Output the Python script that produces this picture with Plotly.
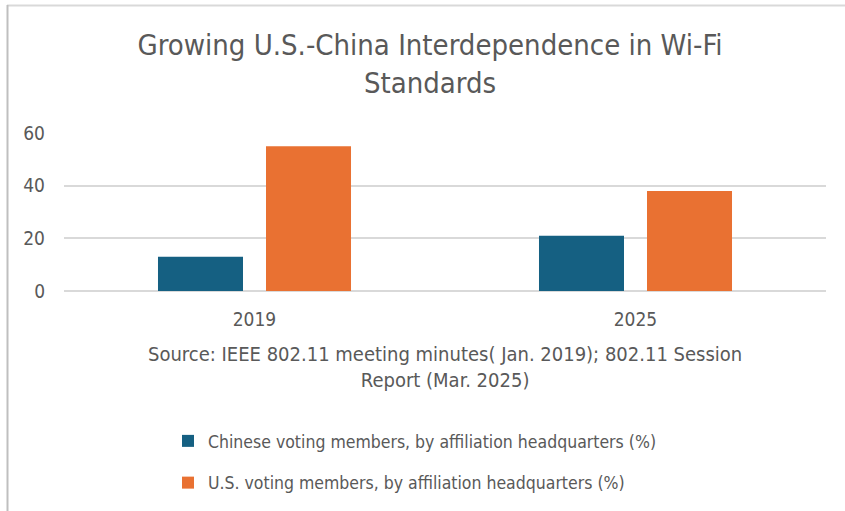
import plotly.graph_objects as go

categories = ["2019", "2025"]
chinese_pct = [13, 21]
us_pct = [55, 38]
series_names = [
    "Chinese voting members, by affiliation headquarters (%)",
    "U.S. voting members, by affiliation headquarters (%)",
]
y_ticks = [0, 20, 40, 60]

TITLE = "Growing U.S.-China Interdependence in Wi-Fi<br>Standards"
SOURCE = "Source: IEEE 802.11 meeting minutes( Jan. 2019); 802.11 Session<br>Report (Mar. 2025)"

W, H = 845, 511
L, R, T, B = 64, 19, 133, 220
pw, ph = W - L - R, H - T - B

def px_x(px):
    return (px - L) / pw

def px_y(py):
    return (H - B - py) / ph

FONT = "DejaVu Sans Condensed, Liberation Sans Narrow, Liberation Sans, sans-serif"
GRAY = "#595959"

fig = go.Figure()
fig.add_trace(go.Bar(x=categories, y=chinese_pct, name=series_names[0],
                     marker=dict(color="#156082", line=dict(width=0)), legendgroup="a"))
fig.add_trace(go.Bar(x=categories, y=us_pct, name=series_names[1],
                     marker=dict(color="#E97132", line=dict(width=0)), legendgroup="b"))

fig.update_layout(
    width=W, height=H,
    margin=dict(l=L, r=R, t=T, b=B, autoexpand=False),
    paper_bgcolor="white", plot_bgcolor="white",
    font=dict(family=FONT, color=GRAY),
    barmode="group", bargap=0.433, bargroupgap=0.213,
    title=dict(text=TITLE, x=430 / W, xref="container", xanchor="center",
               y=1 - 55 / H, yref="container", yanchor="top",
               font=dict(size=29, color=GRAY, family=FONT)),
    xaxis=dict(showgrid=False, showline=False, ticks="", tickfont=dict(size=19, color=GRAY),
               ticklabelstandoff=15, automargin=False),
    yaxis=dict(range=[0, 60], tickvals=y_ticks, showgrid=True, gridcolor="#D9D9D9", gridwidth=1.5,
               zeroline=True, zerolinecolor="#D9D9D9", zerolinewidth=1.5,
               ticks="", tickfont=dict(size=19, color=GRAY), ticklabelstandoff=18, automargin=False),
    showlegend=True,
    legend=dict(orientation="v", x=px_x(168), xanchor="left", y=px_y(423), yanchor="top",
                font=dict(size=17.5, color=GRAY, family=FONT), traceorder="grouped",
                tracegroupgap=16, bgcolor="rgba(0,0,0,0)"),
    annotations=[dict(text=SOURCE, x=0.5, xref="paper", y=px_y(340), yref="paper",
                      yanchor="top", xanchor="center", showarrow=False,
                      font=dict(size=20, color=GRAY, family=FONT))],
    shapes=[
        dict(type="line", xref="paper", yref="paper", x0=px_x(7), x1=px_x(846),
             y0=px_y(5.5), y1=px_y(5.5), line=dict(color="#D9D9D9", width=2)),
        dict(type="line", xref="paper", yref="paper", x0=px_x(7.5), x1=px_x(7.5),
             y0=px_y(5), y1=px_y(512), line=dict(color="#BFBFBF", width=2)),
    ],
)

fig.write_html("out.html", config={"displayModeBar": False},
               post_script="document.body.style.margin='0';")
